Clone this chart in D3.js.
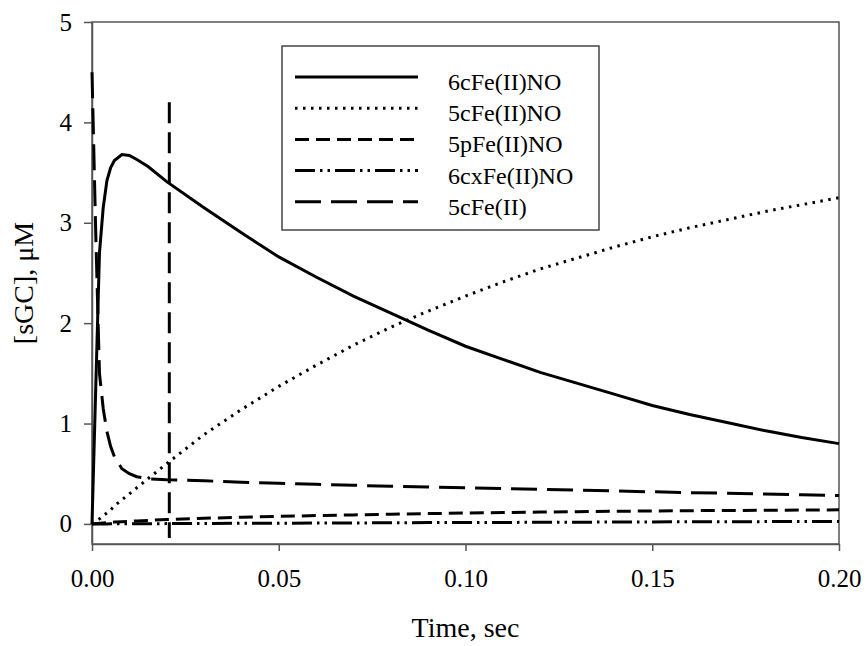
<!DOCTYPE html>
<html>
<head>
<meta charset="utf-8">
<script src="https://cdn.jsdelivr.net/npm/d3@7"></script>
<style>
  body { margin: 0; background: #fff; }
  svg text { font-family: "Liberation Serif", "Times New Roman", serif; fill: #000; }
</style>
</head>
<body>
<svg id="chart" width="867" height="646"></svg>
<script>
// time points (sec)
var times = [0, 0.001, 0.002, 0.003, 0.004, 0.005, 0.006, 0.008, 0.010, 0.012, 0.015, 0.02,
  0.03, 0.04, 0.05, 0.06, 0.07, 0.08, 0.09, 0.10, 0.11, 0.12, 0.13, 0.14, 0.15,
  0.16, 0.17, 0.18, 0.19, 0.20];

// [sGC] in uM
var c6cFeIINO = [0, 1.35, 2.7, 3.15, 3.42, 3.55, 3.62, 3.68, 3.67, 3.63, 3.56, 3.41,
  3.15, 2.9, 2.66, 2.46, 2.27, 2.1, 1.93, 1.77, 1.64, 1.51, 1.4, 1.29, 1.18,
  1.09, 1.01, 0.93, 0.86, 0.8];
var c5cFeIINO = [0, 0.02, 0.05, 0.08, 0.11, 0.14, 0.18, 0.24, 0.3, 0.36, 0.45, 0.6,
  0.89, 1.14, 1.37, 1.58, 1.78, 1.96, 2.12, 2.27, 2.41, 2.54, 2.65, 2.76, 2.86,
  2.95, 3.03, 3.11, 3.18, 3.25];
var c5pFeIINO = [0, 0.003, 0.006, 0.009, 0.012, 0.015, 0.018, 0.022, 0.026, 0.03, 0.035, 0.043,
  0.056, 0.066, 0.075, 0.083, 0.09, 0.097, 0.103, 0.108, 0.113, 0.118, 0.122, 0.126, 0.129,
  0.132, 0.134, 0.136, 0.138, 0.14];
var c6cxFeIINO = [0, 0, 0, 0, 0, 0.001, 0.001, 0.001, 0.001, 0.002, 0.002, 0.003,
  0.004, 0.006, 0.007, 0.009, 0.01, 0.011, 0.013, 0.014, 0.015, 0.016, 0.017, 0.019, 0.02,
  0.021, 0.022, 0.023, 0.024, 0.025];
var c5cFeII = [4.5, 2.9, 1.5, 1.15, 0.92, 0.77, 0.67, 0.55, 0.5, 0.47, 0.45, 0.44,
  0.43, 0.415, 0.405, 0.395, 0.385, 0.375, 0.367, 0.36, 0.352, 0.344, 0.336, 0.328, 0.32,
  0.312, 0.305, 0.298, 0.29, 0.283];

// vertical dashed marker
var markerTime = [0.0207, 0.0207];
var markerConc = [4.2, -0.14];

var seriesNames = ["6cFe(II)NO", "5cFe(II)NO", "5pFe(II)NO", "6cxFe(II)NO", "5cFe(II)"];
var xTicks = [0, 0.05, 0.10, 0.15, 0.20];
var yTicks = [0, 1, 2, 3, 4, 5];

var series = [
  { name: seriesNames[0], values: c6cFeIINO, dash: null },
  { name: seriesNames[1], values: c5cFeIINO, dash: "2.5,5.5" },
  { name: seriesNames[2], values: c5pFeIINO, dash: "14,7" },
  { name: seriesNames[3], values: c6cxFeIINO, dash: "20,5,2.5,5,2.5,5" },
  { name: seriesNames[4], values: c5cFeII, dash: "26,10" }
];

var svg = d3.select("#chart");
var plotLeft = 92, plotRight = 839, plotTop = 22, plotBottom = 544;

var x = d3.scaleLinear().domain([0, 0.2]).range([plotLeft, plotRight]);
var y = d3.scaleLinear().domain([-0.2, 5]).range([plotBottom, plotTop]);

// frame
svg.append("rect")
    .attr("x", plotLeft).attr("y", plotTop)
    .attr("width", plotRight - plotLeft).attr("height", plotBottom - plotTop)
    .attr("fill", "none").attr("stroke", "#555").attr("stroke-width", 1.5);

var yAxis = svg.append("g")
    .attr("transform", "translate(" + plotLeft + ",0)")
    .call(d3.axisLeft(y).tickValues(yTicks).tickSize(8).tickSizeOuter(0).tickPadding(12).tickFormat(d3.format("d")));
var xAxis = svg.append("g")
    .attr("transform", "translate(0," + plotBottom + ")")
    .call(d3.axisBottom(x).tickValues(xTicks).tickSize(7).tickSizeOuter(0).tickPadding(18).tickFormat(d3.format(".2f")));

[yAxis, xAxis].forEach(function(a) {
  a.select(".domain").attr("stroke", "#555").attr("stroke-width", 1.5);
  a.selectAll(".tick line").attr("stroke", "#555").attr("stroke-width", 1.5);
  a.selectAll(".tick text").style("font-size", "25px").attr("font-family", null);
});

// lines
var line = d3.line()
    .x(function(d) { return x(d[0]); })
    .y(function(d) { return y(d[1]); });

series.forEach(function(s) {
  var pts = times.map(function(t, i) { return [t, s.values[i]]; });
  svg.append("path")
      .attr("d", line(pts))
      .attr("fill", "none")
      .attr("stroke", "#000")
      .attr("stroke-width", 3)
      .attr("stroke-dasharray", s.dash);
});

svg.append("path")
    .attr("d", line(markerTime.map(function(t, i) { return [t, markerConc[i]]; })))
    .attr("fill", "none")
    .attr("stroke", "#000")
    .attr("stroke-width", 3)
    .attr("stroke-dasharray", "21,9");

// legend
var legend = svg.append("g");
legend.append("rect")
    .attr("x", 282).attr("y", 46)
    .attr("width", 317).attr("height", 184)
    .attr("fill", "#fff").attr("stroke", "#444").attr("stroke-width", 1.5);

series.forEach(function(s, i) {
  var ly = 77 + i * 31.2;
  legend.append("line")
      .attr("x1", 295).attr("x2", 418)
      .attr("y1", ly).attr("y2", ly)
      .attr("stroke", "#000").attr("stroke-width", 3)
      .attr("stroke-dasharray", s.dash);
  legend.append("text")
      .attr("x", 448).attr("y", ly + 13)
      .style("font-size", "24px")
      .text(s.name);
});

// axis titles
svg.append("text")
    .attr("x", (plotLeft + plotRight) / 2).attr("y", 637)
    .attr("text-anchor", "middle")
    .style("font-size", "28px")
    .text("Time, sec");

svg.append("text")
    .attr("transform", "translate(33," + (plotTop + plotBottom) / 2 + ") rotate(-90)")
    .attr("text-anchor", "middle")
    .style("font-size", "28px")
    .text("[sGC], μM");
</script>
</body>
</html>
